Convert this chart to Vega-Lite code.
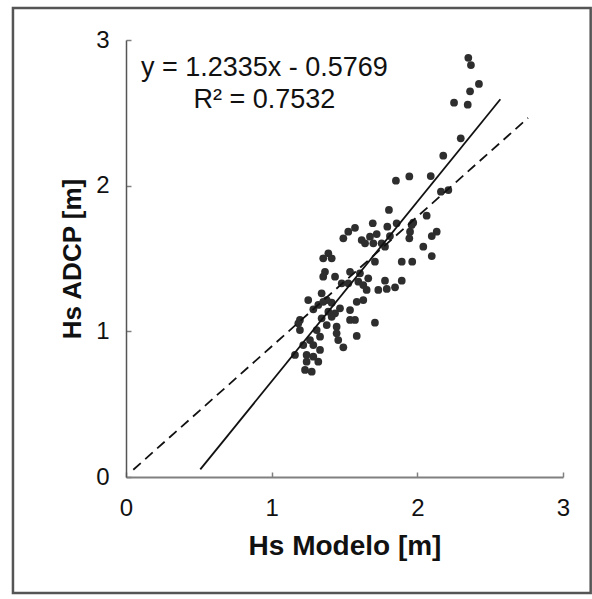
{
  "$schema": "https://vega.github.io/schema/vega-lite/v6.json",
  "width": 437,
  "height": 437,
  "autosize": {"type": "none"},
  "padding": {"left": 126, "top": 40, "right": 29, "bottom": 122},
  "background": "white",
  "config": {"view": {"stroke": null}, "font": "Liberation Sans"},
  "datasets": {
    "obs": [
      {"hs_modelo": 2.350, "hs_adcp": 2.878}, {"hs_modelo": 2.368, "hs_adcp": 2.828},
      {"hs_modelo": 2.423, "hs_adcp": 2.698}, {"hs_modelo": 2.362, "hs_adcp": 2.648},
      {"hs_modelo": 2.252, "hs_adcp": 2.570}, {"hs_modelo": 2.346, "hs_adcp": 2.556},
      {"hs_modelo": 2.298, "hs_adcp": 2.325}, {"hs_modelo": 2.178, "hs_adcp": 2.206},
      {"hs_modelo": 2.092, "hs_adcp": 2.066}, {"hs_modelo": 1.945, "hs_adcp": 2.063},
      {"hs_modelo": 1.853, "hs_adcp": 2.034}, {"hs_modelo": 2.162, "hs_adcp": 1.959},
      {"hs_modelo": 2.213, "hs_adcp": 1.970}, {"hs_modelo": 1.805, "hs_adcp": 1.833},
      {"hs_modelo": 2.064, "hs_adcp": 1.794}, {"hs_modelo": 1.794, "hs_adcp": 1.718},
      {"hs_modelo": 1.858, "hs_adcp": 1.742}, {"hs_modelo": 1.972, "hs_adcp": 1.746},
      {"hs_modelo": 1.950, "hs_adcp": 1.684}, {"hs_modelo": 1.945, "hs_adcp": 1.639},
      {"hs_modelo": 2.133, "hs_adcp": 1.684}, {"hs_modelo": 2.099, "hs_adcp": 1.654},
      {"hs_modelo": 1.812, "hs_adcp": 1.654}, {"hs_modelo": 2.041, "hs_adcp": 1.581},
      {"hs_modelo": 2.099, "hs_adcp": 1.517}, {"hs_modelo": 1.893, "hs_adcp": 1.478},
      {"hs_modelo": 1.965, "hs_adcp": 1.478}, {"hs_modelo": 1.755, "hs_adcp": 1.604},
      {"hs_modelo": 1.778, "hs_adcp": 1.581}, {"hs_modelo": 1.893, "hs_adcp": 1.348},
      {"hs_modelo": 1.778, "hs_adcp": 1.348}, {"hs_modelo": 1.847, "hs_adcp": 1.302},
      {"hs_modelo": 1.790, "hs_adcp": 1.291}, {"hs_modelo": 1.694, "hs_adcp": 1.742},
      {"hs_modelo": 1.526, "hs_adcp": 1.684}, {"hs_modelo": 1.572, "hs_adcp": 1.711},
      {"hs_modelo": 1.492, "hs_adcp": 1.639}, {"hs_modelo": 1.618, "hs_adcp": 1.627},
      {"hs_modelo": 1.675, "hs_adcp": 1.650}, {"hs_modelo": 1.721, "hs_adcp": 1.668},
      {"hs_modelo": 1.961, "hs_adcp": 1.730}, {"hs_modelo": 1.698, "hs_adcp": 1.604},
      {"hs_modelo": 1.641, "hs_adcp": 1.604}, {"hs_modelo": 1.389, "hs_adcp": 1.536},
      {"hs_modelo": 1.354, "hs_adcp": 1.501}, {"hs_modelo": 1.412, "hs_adcp": 1.501},
      {"hs_modelo": 1.709, "hs_adcp": 1.478}, {"hs_modelo": 1.366, "hs_adcp": 1.409},
      {"hs_modelo": 1.354, "hs_adcp": 1.375}, {"hs_modelo": 1.435, "hs_adcp": 1.375},
      {"hs_modelo": 1.481, "hs_adcp": 1.330}, {"hs_modelo": 1.538, "hs_adcp": 1.409},
      {"hs_modelo": 1.606, "hs_adcp": 1.398}, {"hs_modelo": 1.663, "hs_adcp": 1.364},
      {"hs_modelo": 1.595, "hs_adcp": 1.341}, {"hs_modelo": 1.526, "hs_adcp": 1.330},
      {"hs_modelo": 1.732, "hs_adcp": 1.284}, {"hs_modelo": 1.629, "hs_adcp": 1.318},
      {"hs_modelo": 1.652, "hs_adcp": 1.284}, {"hs_modelo": 1.629, "hs_adcp": 1.215},
      {"hs_modelo": 1.584, "hs_adcp": 1.203}, {"hs_modelo": 1.343, "hs_adcp": 1.261},
      {"hs_modelo": 1.378, "hs_adcp": 1.215}, {"hs_modelo": 1.251, "hs_adcp": 1.215},
      {"hs_modelo": 1.320, "hs_adcp": 1.181}, {"hs_modelo": 1.354, "hs_adcp": 1.203},
      {"hs_modelo": 1.412, "hs_adcp": 1.197}, {"hs_modelo": 1.286, "hs_adcp": 1.151},
      {"hs_modelo": 1.469, "hs_adcp": 1.158}, {"hs_modelo": 1.538, "hs_adcp": 1.146},
      {"hs_modelo": 1.389, "hs_adcp": 1.135}, {"hs_modelo": 1.435, "hs_adcp": 1.124},
      {"hs_modelo": 1.343, "hs_adcp": 1.089}, {"hs_modelo": 1.412, "hs_adcp": 1.100},
      {"hs_modelo": 1.538, "hs_adcp": 1.078}, {"hs_modelo": 1.572, "hs_adcp": 1.078},
      {"hs_modelo": 1.709, "hs_adcp": 1.059}, {"hs_modelo": 1.194, "hs_adcp": 1.078},
      {"hs_modelo": 1.183, "hs_adcp": 1.055}, {"hs_modelo": 1.194, "hs_adcp": 1.009},
      {"hs_modelo": 1.378, "hs_adcp": 1.043}, {"hs_modelo": 1.446, "hs_adcp": 1.032},
      {"hs_modelo": 1.309, "hs_adcp": 1.009}, {"hs_modelo": 1.446, "hs_adcp": 0.986},
      {"hs_modelo": 1.584, "hs_adcp": 0.968}, {"hs_modelo": 1.332, "hs_adcp": 0.963},
      {"hs_modelo": 1.263, "hs_adcp": 0.940}, {"hs_modelo": 1.457, "hs_adcp": 0.940},
      {"hs_modelo": 1.217, "hs_adcp": 0.906}, {"hs_modelo": 1.286, "hs_adcp": 0.906},
      {"hs_modelo": 1.492, "hs_adcp": 0.890}, {"hs_modelo": 1.160, "hs_adcp": 0.838},
      {"hs_modelo": 1.332, "hs_adcp": 0.872}, {"hs_modelo": 1.240, "hs_adcp": 0.838},
      {"hs_modelo": 1.286, "hs_adcp": 0.826}, {"hs_modelo": 1.240, "hs_adcp": 0.792},
      {"hs_modelo": 1.320, "hs_adcp": 0.792}, {"hs_modelo": 1.229, "hs_adcp": 0.735},
      {"hs_modelo": 1.275, "hs_adcp": 0.723}
    ],
    "fit": [
      {"hs_modelo": 0.51, "hs_adcp": 0.052},
      {"hs_modelo": 2.57, "hs_adcp": 2.593}
    ],
    "ref": [
      {"hs_modelo": 0.05, "hs_adcp": 0.05},
      {"hs_modelo": 2.76, "hs_adcp": 2.465}
    ]
  },
  "layer": [
    {
      "data": {"values": [{}]},
      "mark": {"type": "rect", "fill": "transparent", "stroke": "#555555", "strokeWidth": 2.5, "clip": false},
      "encoding": {
        "x": {"datum": -0.776, "type": "quantitative", "scale": {"domain": [0, 3], "nice": false, "zero": false}},
        "x2": {"datum": 3.19},
        "y": {"datum": 3.22, "type": "quantitative", "scale": {"domain": [0, 3], "nice": false, "zero": false}},
        "y2": {"datum": -0.796}
      }
    },
    {
      "data": {"name": "obs"},
      "mark": {"type": "circle", "size": 60, "color": "#2e2e2e", "opacity": 1},
      "encoding": {
        "x": {
          "field": "hs_modelo", "type": "quantitative",
          "scale": {"domain": [0, 3], "nice": false, "zero": false},
          "axis": {
            "title": "Hs Modelo [m]", "values": [0, 1, 2, 3], "format": "d", "grid": false,
            "tickSize": -5, "tickColor": "#808080", "tickWidth": 1.5,
            "domainColor": "#808080", "domainWidth": 2,
            "labelFontSize": 24, "labelColor": "#111111", "labelPadding": 24, "labelFlush": false, "labelOverlap": false,
            "titleFontSize": 28, "titleFontWeight": "bold", "titleColor": "#111111", "titlePadding": 12
          }
        },
        "y": {
          "field": "hs_adcp", "type": "quantitative",
          "scale": {"domain": [0, 3], "nice": false, "zero": false},
          "axis": {
            "title": "Hs ADCP [m]", "values": [0, 1, 2, 3], "format": "d", "grid": false,
            "tickSize": -5, "tickColor": "#808080", "tickWidth": 1.5,
            "domainColor": "#555555", "domainWidth": 1.5,
            "labelFontSize": 24, "labelColor": "#111111", "labelPadding": 22, "labelFlush": false, "labelOverlap": false,
            "titleFontSize": 26, "titleFontWeight": "bold", "titleColor": "#111111", "titlePadding": 10
          }
        }
      }
    },
    {
      "data": {"name": "ref"},
      "mark": {"type": "line", "color": "#111111", "strokeWidth": 1.8, "strokeDash": [10, 6]},
      "encoding": {
        "x": {"field": "hs_modelo", "type": "quantitative"},
        "y": {"field": "hs_adcp", "type": "quantitative"}
      }
    },
    {
      "data": {"name": "fit"},
      "mark": {"type": "line", "color": "#111111", "strokeWidth": 1.8},
      "encoding": {
        "x": {"field": "hs_modelo", "type": "quantitative"},
        "y": {"field": "hs_adcp", "type": "quantitative"}
      }
    },
    {
      "data": {"values": [{}]},
      "mark": {"type": "text", "text": "y = 1.2335x - 0.5769", "fontSize": 27, "align": "center", "baseline": "middle", "color": "#111111"},
      "encoding": {
        "x": {"datum": 0.95, "type": "quantitative"},
        "y": {"datum": 2.81, "type": "quantitative"}
      }
    },
    {
      "data": {"values": [{}]},
      "mark": {"type": "text", "text": "R² = 0.7532", "fontSize": 27, "align": "center", "baseline": "middle", "color": "#111111"},
      "encoding": {
        "x": {"datum": 0.95, "type": "quantitative"},
        "y": {"datum": 2.59, "type": "quantitative"}
      }
    }
  ]
}
